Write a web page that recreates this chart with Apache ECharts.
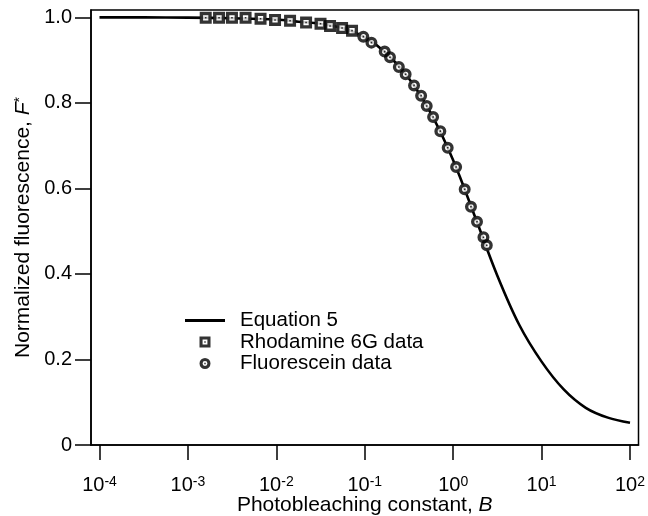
<!DOCTYPE html>
<html><head><meta charset="utf-8">
<script src="https://cdn.jsdelivr.net/npm/echarts@6/dist/echarts.min.js"></script>
<style>html,body{margin:0;padding:0;background:#fff}#c{width:648px;height:516px}</style>
</head><body><div id="c"></div>
<script>
// Equation 5 curve
const curveB = [1e-4, 3.16e-4, 1e-3, 3.16e-3, 1e-2, 1.78e-2, 3.16e-2, 5.62e-2, 0.1, 0.178, 0.316, 0.562, 1, 1.78, 3.16, 5.62, 10, 17.8, 31.6, 56.2, 100];
const curveF = [1.0, 1.0, 0.9995, 0.998, 0.995, 0.990, 0.985, 0.975, 0.953, 0.915, 0.857, 0.775, 0.666, 0.532, 0.396, 0.280, 0.195, 0.130, 0.087, 0.064, 0.052];
// Rhodamine 6G data
const rhodB = [0.00159, 0.00225, 0.00315, 0.00449, 0.00663, 0.00967, 0.0143, 0.0217, 0.0316, 0.0405, 0.0554, 0.0718];
const rhodF = [0.999, 0.999, 0.999, 0.999, 0.997, 0.994, 0.992, 0.988, 0.985, 0.980, 0.975, 0.969];
// Fluorescein data
const fluoB = [0.0964, 0.119, 0.168, 0.193, 0.243, 0.290, 0.361, 0.434, 0.502, 0.593, 0.716, 0.867, 1.08, 1.35, 1.59, 1.86, 2.20, 2.40];
const fluoF = [0.955, 0.941, 0.920, 0.907, 0.884, 0.867, 0.841, 0.817, 0.793, 0.767, 0.734, 0.695, 0.650, 0.598, 0.557, 0.522, 0.486, 0.467];
// ticks
const xTicks = [1e-4, 1e-3, 1e-2, 1e-1, 1, 10, 100];
const yTicks = [0, 0.2, 0.4, 0.6, 0.8, 1.0];

const FONT = '"Liberation Sans", Arial, Helvetica, sans-serif';
const zip = (a, b) => a.map((v, i) => [v, b[i]]);
const SQ = 'path://M0 0H10V10H0Z M2.8 2.8V7.2H7.2V2.8Z M4.35 4.35H5.65V5.65H4.35Z';
const CI = 'path://M5 0A5 5 0 1 1 5 10A5 5 0 1 1 5 0Z M5 2.8A2.2 2.2 0 1 0 5 7.2A2.2 2.2 0 1 0 5 2.8Z M4.35 4.35H5.65V5.65H4.35Z';

const chart = echarts.init(document.getElementById('c'), null, {renderer: 'canvas'});
chart.setOption({
  animation: false,
  backgroundColor: '#fff',
  textStyle: {fontFamily: FONT, color: '#000'},
  grid: {left: 91, right: 9.5, top: 10, bottom: 71, containLabel: false, outerBoundsMode: 'none',
    show: true, borderColor: '#000', borderWidth: 1.5, backgroundColor: 'transparent'},
  legend: {
    orient: 'vertical', left: 185, top: 310, padding: 0, itemWidth: 40, itemHeight: 11, itemGap: 0.5,
    textStyle: {fontFamily: FONT, fontSize: 20.5, color: '#000', lineHeight: 20, padding: [0, 0, 0, 10]},
    data: [{name: 'Equation 5', icon: 'path://M0 0H40V3H0Z'}, 'Rhodamine 6G data', 'Fluorescein data'],
    selectedMode: false
  },
  xAxis: {
    type: 'log', logBase: 10,
    min: Math.pow(10, -4.096), max: Math.pow(10, 2.096),
    name: 'Photobleaching constant, {i|B}', nameLocation: 'middle', nameGap: 50, nameMoveOverlap: false,
    nameTextStyle: {fontFamily: FONT, fontSize: 21, lineHeight: 21, color: '#000',
      rich: {i: {fontFamily: FONT, fontSize: 21, lineHeight: 21, fontStyle: 'italic', color: '#000'}}},
    axisLine: {show: true, lineStyle: {color: '#000', width: 1.5}},
    axisTick: {show: true, length: 15, lineStyle: {color: '#000', width: 1.5}, customValues: xTicks},
    minorTick: {show: false},
    splitLine: {show: false},
    axisLabel: {
      customValues: xTicks, margin: 30, fontFamily: FONT, color: '#000',
      formatter: v => '{b|10}{s|' + Math.round(Math.log10(v)) + '}',
      rich: {
        b: {fontFamily: FONT, fontSize: 20, lineHeight: 20, padding: [5, 0, 0, 0], verticalAlign: 'bottom', color: '#000'},
        s: {fontFamily: FONT, fontSize: 14, lineHeight: 14, verticalAlign: 'top', color: '#000'}
      }
    }
  },
  yAxis: {
    type: 'value', min: 0, max: 1.0173,
    name: 'Normalized fluorescence, {i|F}{s|*}', nameLocation: 'middle', nameGap: 57, nameMoveOverlap: false,
    nameTextStyle: {fontFamily: FONT, fontSize: 21, color: '#000', rich: {
      i: {fontFamily: FONT, fontSize: 21, fontStyle: 'italic', color: '#000'},
      s: {fontFamily: FONT, fontSize: 14, color: '#000', verticalAlign: 'top', lineHeight: 14}
    }},
    axisLine: {show: true, lineStyle: {color: '#000', width: 1.5}},
    axisTick: {show: true, length: 16, lineStyle: {color: '#000', width: 1.5}, customValues: yTicks},
    splitLine: {show: false},
    axisLabel: {customValues: yTicks, margin: 19, fontFamily: FONT, fontSize: 20, color: '#000',
      formatter: v => (Math.abs(v) < 1e-9 ? '0' : v.toFixed(1))}
  },
  series: [
    {name: 'Equation 5', type: 'line', data: zip(curveB, curveF), symbol: 'none', smooth: 0.35,
      lineStyle: {color: '#000', width: 2.6}, itemStyle: {color: '#000'}, z: 2},
    {name: 'bgR', type: 'scatter', data: zip(rhodB, rhodF), symbol: 'rect', symbolSize: 11, itemStyle: {color: '#fff'}, silent: true, z: 3},
    {name: 'bgF', type: 'scatter', data: zip(fluoB, fluoF), symbol: 'circle', symbolSize: 11, itemStyle: {color: '#fff'}, silent: true, z: 3},
    {name: 'Rhodamine 6G data', type: 'scatter', data: zip(rhodB, rhodF), symbol: SQ, symbolSize: 12, itemStyle: {color: '#000'}, z: 4},
    {name: 'Fluorescein data', type: 'scatter', data: zip(fluoB, fluoF), symbol: CI, symbolSize: 12, itemStyle: {color: '#000'}, z: 4}
  ]
});
</script>
</body></html>
